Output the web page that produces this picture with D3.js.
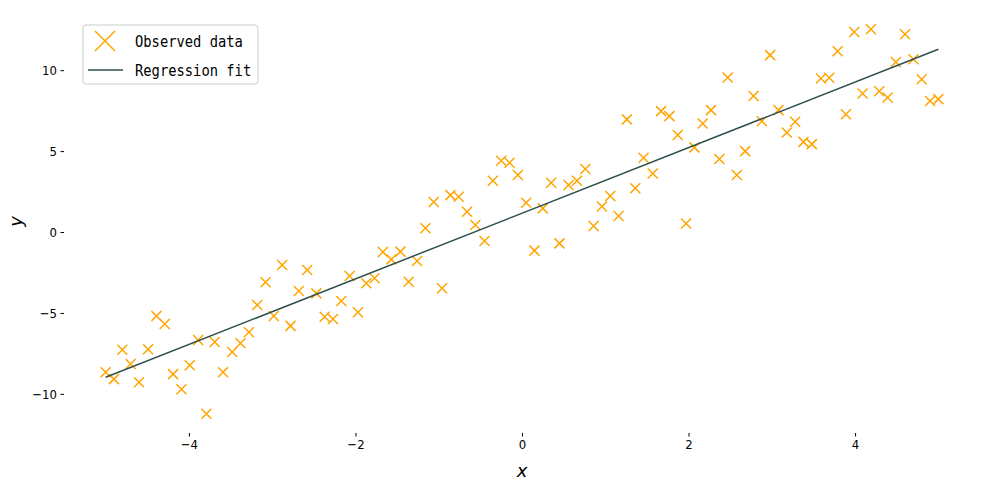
<!DOCTYPE html>
<html>
<head>
<meta charset="utf-8">
<script src="https://cdn.jsdelivr.net/npm/d3@7"></script>
<style>
	body { margin: 0; background: #fff; }
	.tick text { font-family: "Liberation Sans Narrow", "DejaVu Sans Condensed", sans-serif; font-size: 13px; fill: #000; }
	.legend text { font-family: "DejaVu Sans Mono", "Liberation Mono", monospace; font-size: 16px; }
</style>
</head>
<body>
<div id="chart"></div>
<script>
var xValues = [-5.00,-4.90,-4.80,-4.70,-4.60,-4.49,-4.39,-4.29,-4.19,-4.09,
	-3.99,-3.89,-3.79,-3.69,-3.59,-3.48,-3.38,-3.28,-3.18,-3.08,
	-2.98,-2.88,-2.78,-2.68,-2.58,-2.47,-2.37,-2.27,-2.17,-2.07,
	-1.97,-1.87,-1.77,-1.67,-1.57,-1.46,-1.36,-1.26,-1.16,-1.06,
	-0.96,-0.86,-0.76,-0.66,-0.56,-0.45,-0.35,-0.25,-0.15,-0.05,
	0.05,0.15,0.25,0.35,0.45,0.56,0.66,0.76,0.86,0.96,
	1.06,1.16,1.26,1.36,1.46,1.57,1.67,1.77,1.87,1.97,
	2.07,2.17,2.27,2.37,2.47,2.58,2.68,2.78,2.88,2.98,
	3.08,3.18,3.28,3.38,3.48,3.59,3.69,3.79,3.89,3.99,
	4.09,4.19,4.29,4.39,4.49,4.60,4.70,4.80,4.90,5.00];

var yValues = [-8.66,-9.09,-7.28,-8.15,-9.28,-7.24,-5.19,-5.68,-8.78,-9.71,
	-8.23,-6.67,-11.23,-6.79,-8.66,-7.41,-6.87,-6.19,-4.51,-3.10,
	-5.19,-2.04,-5.80,-3.64,-2.35,-3.79,-5.23,-5.37,-4.26,-2.72,
	-4.96,-3.17,-2.86,-1.23,-1.69,-1.21,-3.07,-1.79,0.23,1.85,
	-3.48,2.28,2.18,1.25,0.43,-0.56,3.17,4.40,4.28,3.52,
	1.81,-1.15,1.46,3.04,-0.70,2.90,3.17,3.89,0.37,1.58,
	2.22,0.99,6.96,2.70,4.59,3.62,7.47,7.16,5.99,0.53,
	5.23,6.71,7.53,4.51,9.55,3.52,5.00,8.40,6.85,10.93,
	7.53,6.15,6.81,5.57,5.43,9.49,9.53,11.17,7.28,12.36,
	8.56,12.53,8.70,8.31,10.51,12.22,10.68,9.44,8.09,8.21];

var xTicks = [-4,-2,0,2,4];
var yTicks = [-10,-5,0,5,10];
var seriesNames = ["Observed data","Regression fit"];

(function(){
	var width = 989,
	height = 490;
	var left = 64, right = 980, top = 10, bottom = 433;

	var svg = d3.select("#chart")
	.append("svg")
	.attr("width",width)
	.attr("height",height)

	var points = xValues.map(function(x,i){ return {x:x, y:yValues[i]}; })

	// least squares fit
	var mx = d3.mean(xValues), my = d3.mean(yValues)
	var sxy = d3.sum(points,function(d){ return (d.x-mx)*(d.y-my); })
	var sxx = d3.sum(points,function(d){ return (d.x-mx)*(d.x-mx); })
	var slope = sxy/sxx, intercept = my - slope*mx
	var fit = [xValues[0], xValues[xValues.length-1]].map(function(x){ return {x:x, y:intercept+slope*x}; })

	// matplotlib style 5% margins
	var xExt = d3.extent(xValues), yExt = d3.extent(yValues)
	var xPad = (xExt[1]-xExt[0])*0.05, yPad = (yExt[1]-yExt[0])*0.05

	var xScale = d3.scaleLinear()
		.domain([xExt[0]-xPad, xExt[1]+xPad])
		.range([left,right])
	var yScale = d3.scaleLinear()
		.domain([yExt[0]-yPad, yExt[1]+yPad])
		.range([bottom,top])

	var fmt = function(d){ return d<0 ? "\u2212"+(-d) : d; }

	var xAxis = svg.append("g")
		.attr("transform","translate(0," + bottom + ")")
		.call(d3.axisBottom(xScale).tickValues(xTicks).tickSize(3.5).tickPadding(3.5).tickFormat(fmt))
	xAxis.select(".domain").remove()

	var yAxis = svg.append("g")
		.attr("transform","translate(" + left + ",0)")
		.call(d3.axisLeft(yScale).tickValues(yTicks).tickSize(3.5).tickPadding(3.5).tickFormat(fmt))
	yAxis.select(".domain").remove()

	svg.append("text")
		.attr("x",(left+right)/2)
		.attr("y",477)
		.attr("text-anchor","middle")
		.style("font-family","DejaVu Sans, sans-serif")
		.style("font-style","italic")
		.style("font-size","18px")
		.text("x")

	svg.append("text")
		.attr("transform","translate(22," + (top+bottom)/2 + ") rotate(-90)")
		.attr("text-anchor","middle")
		.style("font-family","DejaVu Sans, sans-serif")
		.style("font-style","italic")
		.style("font-size","18px")
		.text("y")

	var line = d3.line()
		.x(function(d){ return xScale(d.x); })
		.y(function(d){ return yScale(d.y); })

	var s = 5
	var marks = svg.selectAll(".obs")
		.data(points)
		.enter().append("path")
		.attr("class","obs")
		.attr("d",function(d){
			var cx = xScale(d.x), cy = yScale(d.y)
			return "M"+(cx-s)+","+(cy-s)+"L"+(cx+s)+","+(cy+s)+"M"+(cx-s)+","+(cy+s)+"L"+(cx+s)+","+(cy-s)
		})
		.attr("stroke","orange")
		.attr("stroke-width",1.5)
		.attr("fill","none")

	svg.append("path")
		.datum(fit)
		.attr("d",line)
		.attr("stroke","darkslategray")
		.attr("stroke-width",1.5)
		.attr("fill","none")

	// legend
	var legend = svg.append("g").attr("class","legend")
	legend.append("rect")
		.attr("x",83).attr("y",25)
		.attr("width",175).attr("height",59)
		.attr("rx",3)
		.attr("fill","#fff").attr("fill-opacity",0.8)
		.attr("stroke","#ccc")
	var ls = 10
	legend.append("path")
		.attr("d","M"+(105-ls)+","+(41-ls)+"L"+(105+ls)+","+(41+ls)+"M"+(105-ls)+","+(41+ls)+"L"+(105+ls)+","+(41-ls))
		.attr("stroke","orange").attr("stroke-width",1.5)
	legend.append("line")
		.attr("x1",88).attr("x2",123).attr("y1",70).attr("y2",70)
		.attr("stroke","darkslategray").attr("stroke-width",1.5)
	legend.selectAll(".lab")
		.data(seriesNames)
		.enter().append("text")
		.attr("class","lab")
		.attr("x",135)
		.attr("y",function(d,i){ return 41 + i*29; })
		.attr("dy","0.35em")
		.attr("textLength",function(d){ return d.length*8.3; })
		.attr("lengthAdjust","spacingAndGlyphs")
		.text(function(d){ return d; })
})();
</script>
</body>
</html>
